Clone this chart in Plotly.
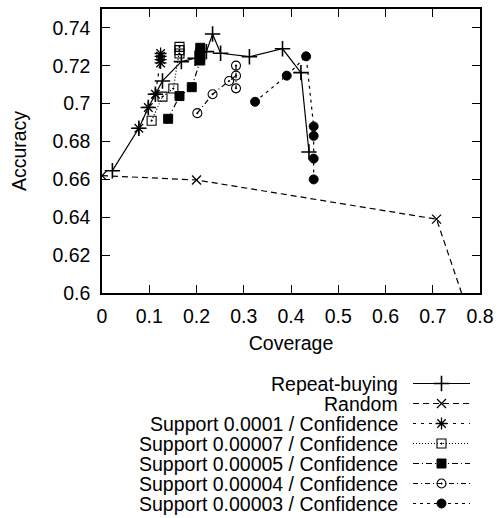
import plotly.graph_objects as go

# ---------------- data ----------------
rb_x = [0.022, 0.078, 0.098, 0.113, 0.128, 0.168, 0.197, 0.221, 0.234, 0.251, 0.312, 0.382, 0.421, 0.438]
rb_y = [0.6646, 0.687, 0.698, 0.705, 0.712, 0.7222, 0.724, 0.7275, 0.7368, 0.7266, 0.7248, 0.729, 0.7164, 0.6745]

rnd_x = [0.0, 0.2, 0.708, 1.0]
rnd_y = [0.662, 0.6597, 0.639, 0.424]

s1_x = [0.078, 0.098, 0.113, 0.124, 0.124, 0.124, 0.124]
s1_y = [0.687, 0.698, 0.705, 0.7215, 0.7233, 0.725, 0.7265]

s2_x = [0.105, 0.128, 0.151, 0.164, 0.164, 0.164]
s2_y = [0.691, 0.7037, 0.708, 0.7265, 0.7283, 0.730]

s3_x = [0.140, 0.164, 0.190, 0.208, 0.208, 0.208, 0.208]
s3_y = [0.692, 0.704, 0.7087, 0.7228, 0.725, 0.7272, 0.7295]

s4_x = [0.2017, 0.234, 0.269, 0.2836, 0.2836, 0.2836]
s4_y = [0.695, 0.705, 0.712, 0.7148, 0.7201, 0.7081]

s5_x = [0.324, 0.391, 0.432, 0.448, 0.448, 0.448, 0.448]
s5_y = [0.701, 0.7148, 0.725, 0.688, 0.683, 0.671, 0.660]

names = [
    "Repeat-buying",
    "Random",
    "Support 0.0001 / Confidence",
    "Support 0.00007 / Confidence",
    "Support 0.00005 / Confidence",
    "Support 0.00004 / Confidence",
    "Support 0.00003 / Confidence",
]

x_ticks = [0, 0.1, 0.2, 0.3, 0.4, 0.5, 0.6, 0.7, 0.8]
x_ticktext = ["0", "0.1", "0.2", "0.3", "0.4", "0.5", "0.6", "0.7", "0.8"]
y_ticks = [0.6, 0.62, 0.64, 0.66, 0.68, 0.70, 0.72, 0.74]
y_ticktext = ["0.6", "0.62", "0.64", "0.66", "0.68", "0.7", "0.72", "0.74"]

# ---------------- styles ----------------
series = [
    (rb_x, rb_y, "solid", "cross-thin-open", 11, 1.6),
    (rnd_x, rnd_y, "6px,4px", "x-thin-open", 9, 1.3),
    (s1_x, s1_y, "3px,5px", "asterisk-open", 10, 1.3),
    (s2_x, s2_y, "1px,2px", "square-open-dot", 9, 1.1),
    (s3_x, s3_y, "6px,3px,1px,3px", "square", 9, 1),
    (s4_x, s4_y, "5px,3px,1px,3px", "circle-open-dot", 9, 1.1),
    (s5_x, s5_y, "3px,4px", "circle", 9, 1),
]

W, H = 500, 518
L, R, T, B = 102, 480, 9, 293
FONT = "Liberation Sans, Arial, Helvetica, sans-serif"
FS = 19.5

fig = go.Figure()

for (xs, ys, dash, sym, size, mlw), name in zip(series, names):
    fig.add_trace(go.Scatter(
        x=xs, y=ys, mode="lines+markers", name=name, showlegend=False,
        line=dict(color="black", width=1.2, dash=dash),
        marker=dict(symbol=sym, size=size, color="black",
                    line=dict(color="black", width=mlw)),
        xaxis="x", yaxis="y",
    ))

# ---------------- custom legend (keys on right, text right-aligned) ----------------
row0, row_step = 383.5, 20.0
rows = [row0 + i * row_step for i in range(len(names))]
ly0, ly1 = 373, 513
for (xs, ys, dash, sym, size, mlw), name, r in zip(series, names, rows):
    fig.add_trace(go.Scatter(
        x=[0, 1], y=[r, r], mode="lines", showlegend=False, hoverinfo="skip",
        line=dict(color="black", width=1.2, dash=dash),
        xaxis="x2", yaxis="y2",
    ))
    fig.add_trace(go.Scatter(
        x=[0.5], y=[r], mode="markers", showlegend=False, hoverinfo="skip",
        marker=dict(symbol=sym, size=size, color="black",
                    line=dict(color="black", width=mlw)),
        xaxis="x2", yaxis="y2",
    ))
    fig.add_annotation(
        text=name, x=400 / W, xref="paper", xanchor="right",
        y=r, yref="y2", yanchor="middle", showarrow=False,
        font=dict(family=FONT, size=FS, color="black"),
    )

axis_common = dict(
    showgrid=False, zeroline=False, showline=True, linecolor="black", linewidth=1.5,
    mirror="allticks", ticks="inside", ticklen=8, tickwidth=1.3, tickcolor="black",
    tickfont=dict(family=FONT, size=FS, color="black"),
)

fig.update_layout(
    width=W, height=H,
    margin=dict(l=0, r=0, t=0, b=0),
    paper_bgcolor="white", plot_bgcolor="white",
    font=dict(family=FONT, size=FS, color="black"),
    xaxis=dict(
        domain=[L / W, R / W], range=[0, 0.8],
        tickvals=x_ticks, ticktext=x_ticktext,
        title=dict(text="Coverage", font=dict(family=FONT, size=FS), standoff=10),
        ticklabelstandoff=5,
        automargin=False,
        **axis_common,
    ),
    yaxis=dict(
        domain=[1 - B / H, 1 - T / H], range=[0.6, 0.75],
        tickvals=y_ticks, ticktext=y_ticktext,
        title=dict(text="Accuracy", font=dict(family=FONT, size=FS), standoff=21),
        ticklabelstandoff=6,
        automargin=False,
        **axis_common,
    ),
    xaxis2=dict(domain=[413 / W, 470 / W], range=[0, 1], visible=False, fixedrange=True),
    yaxis2=dict(domain=[1 - ly1 / H, 1 - ly0 / H], range=[ly1, ly0], visible=False,
                fixedrange=True, anchor="x2"),
)
fig.update_layout(xaxis2_anchor="y2")

fig.write_html("out.html")
